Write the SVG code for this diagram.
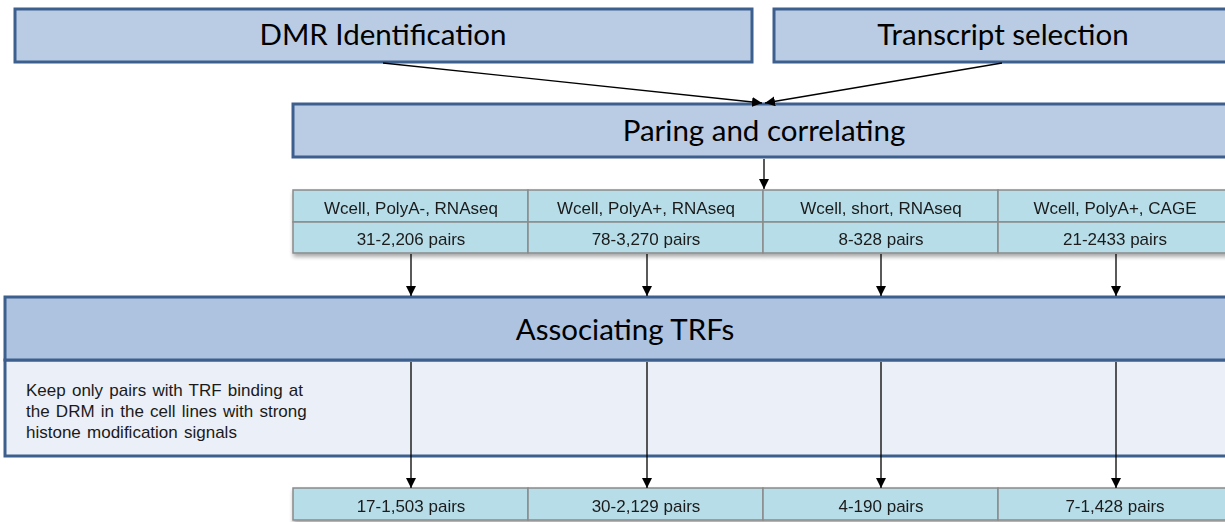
<svg xmlns="http://www.w3.org/2000/svg" width="1225" height="522" viewBox="0 0 1225 522">
<style>
.hdr{fill:#b9cce4;stroke:#3c5f8d;stroke-width:3}
.ahdr{fill:#adc3e0;stroke:#3c5f8d;stroke-width:3}
.abody{fill:#ebeff7;stroke:#3c5f8d;stroke-width:3}
.big{font-family:Lato,"Liberation Sans",sans-serif;font-size:29.5px;fill:#000;text-anchor:middle}
.cell{fill:#b7dde8;stroke:#8a8a8a;stroke-width:1.5}
.sm{font-family:"Liberation Sans",Arial,sans-serif;font-size:17px;fill:#1a1a1a;text-anchor:middle}
.body{font-family:"Liberation Sans",Arial,sans-serif;font-size:17px;fill:#1a1a1a;word-spacing:1.5px}
.conn{stroke:#000;stroke-width:1.3;fill:none;marker-end:url(#ah)}
</style>
<defs>
<marker id="ah" viewBox="0 0 10 10" refX="10" refY="5" markerWidth="10" markerHeight="10" markerUnits="userSpaceOnUse" orient="auto">
<path d="M0,0 L10,5 L0,10 z" fill="#000"/>
</marker>
<filter id="sh" x="-5%" y="-20%" width="110%" height="150%">
<feGaussianBlur in="SourceAlpha" stdDeviation="2"/>
<feOffset dx="1" dy="3" result="b"/>
<feComponentTransfer><feFuncA type="linear" slope="0.35"/></feComponentTransfer>
<feMerge><feMergeNode/><feMergeNode in="SourceGraphic"/></feMerge>
</filter>
</defs>
<rect width="1225" height="522" fill="#fff"/>

<g id="dmr">
<rect class="hdr" x="15" y="9" width="737" height="53"/>
<text class="big" x="383" y="45">DMR Identification</text>
</g>
<g id="transcript">
<rect class="hdr" x="774" y="9" width="470" height="53"/>
<text class="big" x="1003" y="45">Transcript selection</text>
</g>
<g id="paring">
<rect class="hdr" x="293" y="104" width="950" height="53"/>
<text class="big" x="764" y="141">Paring and correlating</text>
</g>

<g id="table1" filter="url(#sh)">
<rect class="cell" x="293" y="190" width="235" height="32"/>
<rect class="cell" x="528" y="190" width="235" height="32"/>
<rect class="cell" x="763" y="190" width="235" height="32"/>
<rect class="cell" x="998" y="190" width="240" height="32"/>
<rect class="cell" x="293" y="222" width="235" height="31"/>
<rect class="cell" x="528" y="222" width="235" height="31"/>
<rect class="cell" x="763" y="222" width="235" height="31"/>
<rect class="cell" x="998" y="222" width="240" height="31"/>
<text class="sm" x="411" y="214">Wcell, PolyA-, RNAseq</text>
<text class="sm" x="646" y="214">Wcell, PolyA+, RNAseq</text>
<text class="sm" x="881" y="214">Wcell, short, RNAseq</text>
<text class="sm" x="1115" y="214">Wcell, PolyA+, CAGE</text>
<text class="sm" x="411" y="245">31-2,206 pairs</text>
<text class="sm" x="646" y="245">78-3,270 pairs</text>
<text class="sm" x="881" y="245">8-328 pairs</text>
<text class="sm" x="1115" y="245">21-2433 pairs</text>
</g>

<g id="associating">
<rect class="abody" x="5" y="360" width="1240" height="96"/>
<rect class="ahdr" x="5" y="297" width="1240" height="63"/>
<text class="big" x="625" y="340">Associating TRFs</text>
<text class="body" x="26" y="396">Keep only pairs with TRF binding at</text>
<text class="body" x="26" y="417">the DRM in the cell lines with strong</text>
<text class="body" x="26" y="438">histone modification signals</text>
</g>

<g id="table2" filter="url(#sh)">
<rect class="cell" x="293" y="488" width="235" height="32"/>
<rect class="cell" x="528" y="488" width="235" height="32"/>
<rect class="cell" x="763" y="488" width="235" height="32"/>
<rect class="cell" x="998" y="488" width="240" height="32"/>
<text class="sm" x="411" y="512">17-1,503 pairs</text>
<text class="sm" x="646" y="512">30-2,129 pairs</text>
<text class="sm" x="881" y="512">4-190 pairs</text>
<text class="sm" x="1115" y="512">7-1,428 pairs</text>
</g>

<g id="connectors">
<line class="conn" x1="383" y1="63" x2="762" y2="103"/>
<line class="conn" x1="1002" y1="63" x2="765" y2="103"/>
<line class="conn" x1="764" y1="159" x2="764" y2="189"/>
<line class="conn" x1="411" y1="254" x2="411" y2="296"/>
<line class="conn" x1="647" y1="254" x2="647" y2="296"/>
<line class="conn" x1="881" y1="254" x2="881" y2="296"/>
<line class="conn" x1="1116" y1="254" x2="1116" y2="296"/>
<line class="conn" x1="411" y1="362" x2="411" y2="488"/>
<line class="conn" x1="647" y1="362" x2="647" y2="488"/>
<line class="conn" x1="881" y1="362" x2="881" y2="488"/>
<line class="conn" x1="1116" y1="362" x2="1116" y2="488"/>
</g>
</svg>
